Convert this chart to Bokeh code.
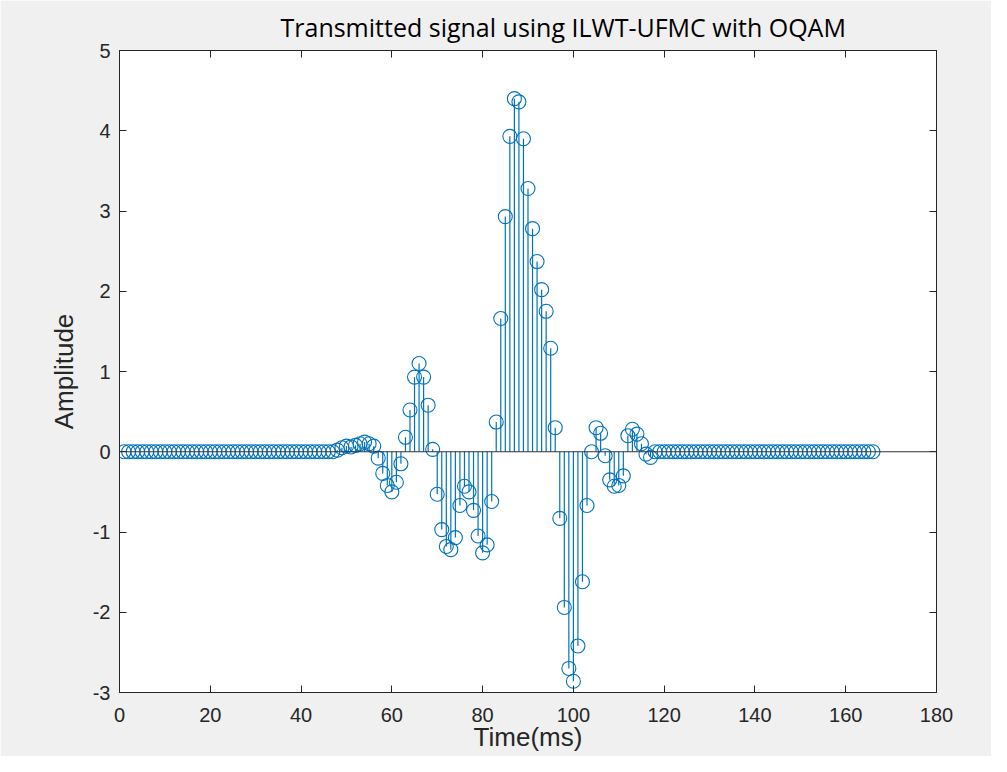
from bokeh.plotting import figure
from bokeh.models import Range1d, LinearAxis, Span, FixedTicker, ColumnDataSource
from bokeh.embed import file_html
from bokeh.resources import INLINE

# time samples (ms) and transmitted amplitudes
time_ms = list(range(1, 167))
lead_zeros = [0.0, 0.0, 0.0, 0.0, 0.0, 0.0, 0.0, 0.0, 0.0, 0.0,
              0.0, 0.0, 0.0, 0.0, 0.0, 0.0, 0.0, 0.0, 0.0, 0.0,
              0.0, 0.0, 0.0, 0.0, 0.0, 0.0, 0.0, 0.0, 0.0, 0.0,
              0.0, 0.0, 0.0, 0.0, 0.0, 0.0, 0.0, 0.0, 0.0, 0.0,
              0.0, 0.0, 0.0, 0.0, 0.0, 0.0, 0.0]            # t = 1..47
burst = [0.02, 0.05, 0.07, 0.06, 0.08, 0.10, 0.12, 0.10, 0.07, -0.08,   # 48..57
         -0.27, -0.42, -0.50, -0.38, -0.15, 0.18, 0.52, 0.93, 1.10, 0.93, # 58..67
         0.58, 0.03, -0.53, -0.97, -1.18, -1.22, -1.07, -0.67, -0.43, -0.50, # 68..77
         -0.73, -1.05, -1.26, -1.16, -0.62, 0.37, 1.66, 2.93, 3.93, 4.40,   # 78..87
         4.36, 3.90, 3.28, 2.78, 2.37, 2.02, 1.75, 1.29, 0.30, -0.83,       # 88..97
         -1.94, -2.70, -2.86, -2.42, -1.62, -0.67, 0.00, 0.30, 0.23, -0.05, # 98..107
         -0.35, -0.43, -0.42, -0.30, 0.20, 0.28, 0.22, 0.10, -0.03, -0.07]  # 108..117
tail_zeros = [0.0, 0.0, 0.0, 0.0, 0.0, 0.0, 0.0, 0.0, 0.0, 0.0,
              0.0, 0.0, 0.0, 0.0, 0.0, 0.0, 0.0, 0.0, 0.0, 0.0,
              0.0, 0.0, 0.0, 0.0, 0.0, 0.0, 0.0, 0.0, 0.0, 0.0,
              0.0, 0.0, 0.0, 0.0, 0.0, 0.0, 0.0, 0.0, 0.0, 0.0,
              0.0, 0.0, 0.0, 0.0, 0.0, 0.0, 0.0, 0.0, 0.0]       # t = 118..166
amplitude = lead_zeros + burst + tail_zeros

x_ticks = [0, 20, 40, 60, 80, 100, 120, 140, 160, 180]
y_ticks = [-3, -2, -1, 0, 1, 2, 3, 4, 5]
y_tick_labels = ["-3", "-2", "-1", "0", "1", "2", "3", "4", "5"]

title_text = "Transmitted signal using ILWT-UFMC with OQAM"
x_label = "Time(ms)"
y_label = "Amplitude"

BLUE = "#0072BD"
AXC = "#262626"
TICK_FONT = "Liberation Sans"

src = ColumnDataSource(dict(t=time_ms, v=amplitude, z=[0.0] * len(time_ms)))

p = figure(width=991, height=756, output_backend="svg", toolbar_location=None,
           x_range=Range1d(0, 180), y_range=Range1d(-3, 5),
           min_border_left=119, min_border_right=55,
           min_border_top=50, min_border_bottom=64)
p.background_fill_color = "white"
p.border_fill_color = "#f0f0f0"
p.outline_line_color = AXC
p.outline_line_width = 1
p.grid.visible = False

p.title.text = title_text
p.title.text_font = "Open Sans"
p.title.text_font_size = "25px"
p.title.text_font_style = "normal"
p.title.text_color = "#000000"
p.title.align = "left"
p.title.vertical_align = "middle"
p.title.offset = 161
p.title.standoff = 12

for ax in (p.xaxis[0], p.yaxis[0]):
    ax.major_tick_in = 7
    ax.major_tick_out = 0
    ax.minor_tick_line_color = None
    ax.axis_line_color = AXC
    ax.major_tick_line_color = AXC
    ax.major_label_text_font = TICK_FONT
    ax.major_label_text_font_size = "20px"
    ax.major_label_text_color = "#262626"
    ax.axis_label_text_font = TICK_FONT
    ax.axis_label_text_font_style = "normal"
    ax.axis_label_text_color = "#262626"
    ax.axis_label_text_font_size = "26px"

p.xaxis[0].ticker = FixedTicker(ticks=x_ticks)
p.yaxis[0].ticker = FixedTicker(ticks=y_ticks)
p.yaxis[0].major_label_overrides = {t: s for t, s in zip(y_ticks, y_tick_labels)}
p.xaxis[0].axis_label = x_label
p.yaxis[0].axis_label = y_label
p.xaxis[0].major_label_standoff = 15
p.yaxis[0].major_label_standoff = 9
p.xaxis[0].axis_label_standoff = -3
p.yaxis[0].axis_label_standoff = 11

# box ticks on top and right (MATLAB style), without labels
top_ax = LinearAxis(ticker=FixedTicker(ticks=x_ticks), major_tick_in=7, major_tick_out=0,
                    minor_tick_line_color=None, axis_line_color=AXC,
                    major_tick_line_color=AXC, major_label_text_color=None,
                    major_label_text_font_size="1px", major_label_standoff=0)
right_ax = LinearAxis(ticker=FixedTicker(ticks=y_ticks), major_tick_in=7, major_tick_out=0,
                      minor_tick_line_color=None, axis_line_color=AXC,
                      major_tick_line_color=AXC, major_label_text_color=None,
                      major_label_text_font_size="1px", major_label_standoff=0)
p.add_layout(top_ax, "above")
p.add_layout(right_ax, "right")

# baseline
p.add_layout(Span(location=0, dimension="width", line_color="#333333", line_width=1.2))

# stems and markers
p.segment(x0="t", y0="z", x1="t", y1="v", source=src, line_color=BLUE, line_width=1.2)
p.scatter(x="t", y="v", source=src, marker="circle", size=14,
          fill_color=None, line_color=BLUE, line_width=1.1)

open("out.html", "w").write(file_html(p, INLINE))
